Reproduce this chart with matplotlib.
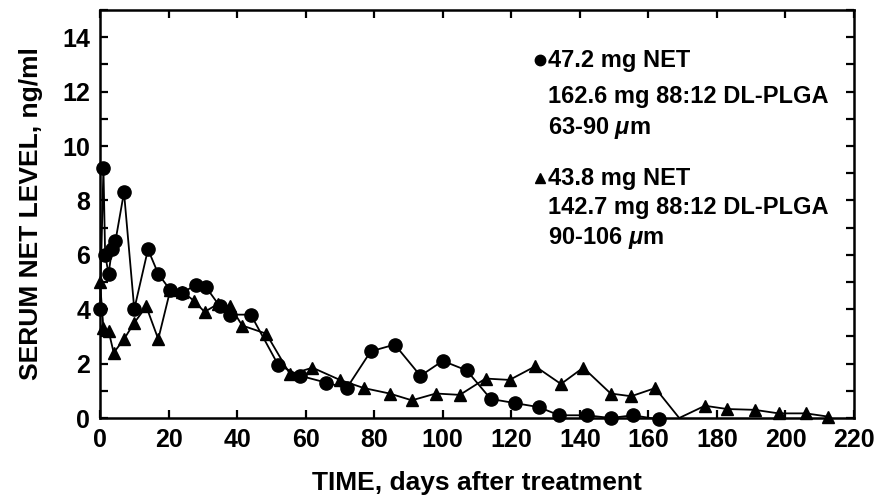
import matplotlib
matplotlib.use('Agg')
import matplotlib.pyplot as plt
from matplotlib.ticker import MultipleLocator

# 47.2 mg NET, 63-90 um microspheres (circles)
days_a = [0, 1, 1.5, 2.5, 3.5, 4.5, 7, 10, 14, 17, 20.5, 24, 28, 31, 35, 38,
          44, 52, 58.5, 66, 72, 79, 86, 93.5, 100, 107, 114, 121, 128, 134,
          142, 149, 155.5, 163]
level_a = [4.0, 9.2, 6.0, 5.3, 6.2, 6.5, 8.3, 4.0, 6.2, 5.3, 4.7, 4.6, 4.9, 4.8,
           4.1, 3.8, 3.8, 1.95, 1.55, 1.3, 1.1, 2.45, 2.7, 1.55, 2.1, 1.75, 0.7,
           0.55, 0.4, 0.1, 0.1, 0.0, 0.1, -0.05]

# 43.8 mg NET, 90-106 um microspheres (triangles)
days_b = [0, 1, 2.5, 4, 7, 10, 13.5, 17, 20.5, 24, 27.5, 30.5, 34.5, 38, 41.5,
          48.5, 55.5, 62, 70, 77, 84.5, 91, 98, 105, 112.5, 119.5, 127, 134.5,
          141, 149, 155, 162, 169, 176.5, 183, 191, 198, 206, 212.5]
level_b = [5.0, 3.3, 3.2, 2.4, 2.9, 3.5, 4.1, 2.9, 4.7, 4.65, 4.3, 3.9, 4.2, 4.1,
           3.4, 3.1, 1.6, 1.85, 1.4, 1.1, 0.9, 0.65, 0.9, 0.85, 1.45, 1.4, 1.9,
           1.25, 1.85, 0.9, 0.8, 1.1, 0.0, 0.45, 0.33, 0.3, 0.17, 0.17, 0.05]

legend_a = ['47.2 mg NET', '162.6 mg 88:12 DL-PLGA', '63-90 $\\mu$m']
legend_b = ['43.8 mg NET', '142.7 mg 88:12 DL-PLGA', '90-106 $\\mu$m']

plt.rcParams['font.family'] = ['Liberation Sans', 'DejaVu Sans']
plt.rcParams['font.weight'] = 'bold'
plt.rcParams['mathtext.fontset'] = 'custom'
plt.rcParams['mathtext.it'] = 'Liberation Sans:italic:bold'
plt.rcParams['mathtext.rm'] = 'Liberation Sans:bold'

fig = plt.figure(figsize=(8.83, 4.97), dpi=100)
ax = fig.add_axes([100 / 883, 1 - 418 / 497, 754 / 883, 408 / 497])

# skip marker on the zero point at day 169 (line only)
mark_b = [i for i in range(len(days_b)) if days_b[i] != 169]

ax.plot(days_a, level_a, color='black', lw=1.3, marker='o', ms=9.5,
        clip_on=False, zorder=3)
ax.plot(days_b, level_b, color='black', lw=1.3, marker='^', ms=9,
        markevery=mark_b, clip_on=False, zorder=3)

ax.set_xlim(0, 220)
ax.set_ylim(0, 15)
ax.xaxis.set_major_locator(MultipleLocator(20))
ax.yaxis.set_minor_locator(MultipleLocator(1))
ax.set_yticks([0, 2, 4, 6, 8, 10, 12, 14])

ax.tick_params(which='both', direction='in', top=True, right=True,
               length=6, width=1.6, labelsize=18, pad=7)
for lab in ax.get_xticklabels() + ax.get_yticklabels():
    lab.set_fontweight('bold')
for s in ax.spines.values():
    s.set_linewidth(1.8)

ax.set_xlabel('TIME, days after treatment', fontsize=19, fontweight='bold',
              labelpad=14)
ax.set_ylabel('SERUM NET LEVEL, ng/ml', fontsize=19, fontweight='bold',
              labelpad=14)

# legend block drawn as text
x_txt = 0.594
ys_a = [0.877, 0.787, 0.711]
ys_b = [0.588, 0.515, 0.441]
for t, y in zip(legend_a, ys_a):
    ax.text(x_txt, y, t, transform=ax.transAxes, fontsize=17,
            fontweight='bold', va='center', ha='left')
for t, y in zip(legend_b, ys_b):
    ax.text(x_txt, y, t, transform=ax.transAxes, fontsize=17,
            fontweight='bold', va='center', ha='left')
ax.plot([0.583], [ys_a[0]], 'o', color='black', ms=7.5, transform=ax.transAxes)
ax.plot([0.583], [ys_b[0]], '^', color='black', ms=7.5, transform=ax.transAxes)

fig.savefig('out.png', dpi=100)
